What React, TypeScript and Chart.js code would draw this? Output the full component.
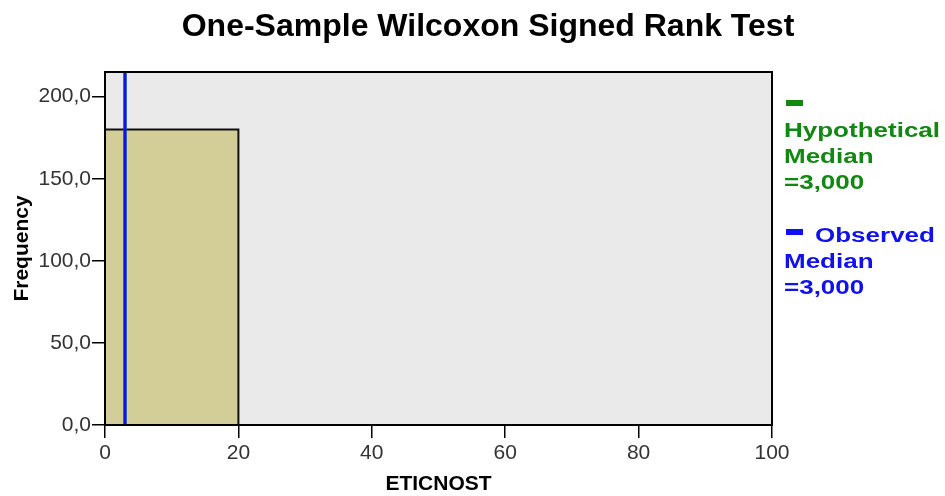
import React, { useEffect, useRef } from "react";
import { Chart, registerables } from "chart.js";

Chart.register(...registerables);

const chartTitle = "One-Sample Wilcoxon Signed Rank Test";
const xAxisTitle = "ETICNOST";
const yAxisTitle = "Frequency";

const binEdges = [0, 20];
const binCounts = [180];

const hypotheticalMedian = 3;
const observedMedian = 3;

const xMin = 0;
const xMax = 100;
const xStep = 20;
const yMin = 0;
const yMax = 215;
const yStep = 50;

const legendGreen = ["Hypothetical", "Median", "=3,000"];
const legendBlue = ["Observed", "Median", "=3,000"];

const GREEN = "#118811";
const BLUE = "#1010F0";
const BAR_FILL = "#D3CD98";
const PLOT_BG = "#EAEAEA";

function histogramOutline() {
  const pts: { x: number; y: number }[] = [];
  for (let i = 0; i < binCounts.length; i++) {
    pts.push({ x: binEdges[i], y: 0 });
    pts.push({ x: binEdges[i], y: binCounts[i] });
    pts.push({ x: binEdges[i + 1], y: binCounts[i] });
    pts.push({ x: binEdges[i + 1], y: 0 });
  }
  return pts;
}

const decorPlugin = {
  id: "decor",
  beforeDatasetsDraw(chart: any) {
    const { ctx, chartArea } = chart;
    ctx.save();
    ctx.fillStyle = PLOT_BG;
    ctx.fillRect(chartArea.left, chartArea.top, chartArea.right - chartArea.left, chartArea.bottom - chartArea.top);
    ctx.restore();
  },
  afterDraw(chart: any) {
    const { ctx, chartArea } = chart;
    ctx.save();
    // frame
    ctx.strokeStyle = "#000";
    ctx.lineWidth = 2;
    ctx.strokeRect(chartArea.left, chartArea.top, chartArea.right - chartArea.left, chartArea.bottom - chartArea.top);

    // title
    ctx.fillStyle = "#000";
    ctx.font = "bold 32px 'Liberation Sans', Arial, sans-serif";
    ctx.textAlign = "center";
    ctx.textBaseline = "alphabetic";
    ctx.fillText(chartTitle, 488, 36);

    // x axis title
    ctx.font = "bold 21px 'Liberation Sans', Arial, sans-serif";
    ctx.fillText(xAxisTitle, (chartArea.left + chartArea.right) / 2, 490);

    // y axis title
    ctx.save();
    ctx.translate(28, (chartArea.top + chartArea.bottom) / 2);
    ctx.rotate(-Math.PI / 2);
    ctx.fillText(yAxisTitle, 0, 0);
    ctx.restore();

    // legend
    const sx = 1.3;
    ctx.font = "bold 20px 'Liberation Sans', Arial, sans-serif";
    ctx.textAlign = "left";
    // green
    ctx.fillStyle = GREEN;
    ctx.fillRect(786, 100, 17, 6);
    const gBase = [137, 163, 189];
    legendGreen.forEach((t, i) => {
      ctx.save();
      ctx.translate(784, gBase[i]);
      ctx.scale(sx, 1);
      ctx.fillText(t, 0, 0);
      ctx.restore();
    });
    // blue
    ctx.fillStyle = BLUE;
    ctx.fillRect(786, 229, 17, 6);
    const bBase = [242, 268, 294];
    legendBlue.forEach((t, i) => {
      ctx.save();
      ctx.translate(i === 0 ? 815 : 784, bBase[i]);
      ctx.scale(sx, 1);
      ctx.fillText(t, 0, 0);
      ctx.restore();
    });
    ctx.restore();
  },
};

export default function App() {
  const canvasRef = useRef<HTMLCanvasElement | null>(null);

  useEffect(() => {
    document.body.style.margin = "0";
    const canvas = canvasRef.current;
    if (!canvas) return;
    const chart = new Chart(canvas, {
      type: "line",
      data: {
        datasets: [
          {
            label: "Observed Median",
            data: [
              { x: observedMedian, y: yMin },
              { x: observedMedian, y: yMax },
            ],
            borderColor: BLUE,
            borderWidth: 3,
            pointRadius: 0,
            fill: false,
            order: 0,
          },
          {
            label: "Hypothetical Median",
            data: [
              { x: hypotheticalMedian, y: yMin },
              { x: hypotheticalMedian, y: yMax },
            ],
            borderColor: GREEN,
            borderWidth: 3,
            pointRadius: 0,
            fill: false,
            order: 1,
          },
          {
            label: "Histogram",
            data: histogramOutline(),
            borderColor: "#111",
            borderWidth: 2,
            backgroundColor: BAR_FILL,
            pointRadius: 0,
            fill: "origin",
            tension: 0,
            order: 2,
          },
        ],
      },
      options: {
        animation: false,
        responsive: false,
        maintainAspectRatio: false,
        layout: { padding: { top: 72, right: 173, left: 0, bottom: 0 } },
        plugins: {
          legend: { display: false },
          tooltip: { enabled: false },
          title: { display: false },
        },
        scales: {
          x: {
            type: "linear",
            min: xMin,
            max: xMax,
            afterFit: (s: any) => {
              s.height = 71;
            },
            ticks: {
              stepSize: xStep,
              color: "#333",
              font: { family: "'Liberation Sans', Arial, sans-serif", size: 21 },
              padding: 3,
              maxRotation: 0,
            },
            grid: {
              drawOnChartArea: false,
              drawTicks: true,
              tickLength: 13,
              color: "#000",
              lineWidth: 1.5,
            },
            border: { display: true, color: "#000", width: 2 },
          },
          y: {
            type: "linear",
            min: yMin,
            max: yMax,
            afterFit: (s: any) => {
              s.width = 105;
            },
            afterBuildTicks: (s: any) => {
              s.ticks = s.ticks.filter((t: any) => t.value % yStep === 0);
            },
            ticks: {
              stepSize: yStep,
              color: "#333",
              font: { family: "'Liberation Sans', Arial, sans-serif", size: 21 },
              padding: 1,
              callback: (v: any) => Number(v).toFixed(1).replace(".", ","),
            },
            grid: {
              drawOnChartArea: false,
              drawTicks: true,
              tickLength: 13,
              color: "#000",
              lineWidth: 1.5,
            },
            border: { display: true, color: "#000", width: 2 },
          },
        },
      },
      plugins: [decorPlugin],
    } as any);
    return () => chart.destroy();
  }, []);

  return (
    <div style={{ width: 945, height: 496, position: "relative", background: "#fff" }}>
      <canvas ref={canvasRef} width={945} height={496} style={{ display: "block" }} />
    </div>
  );
}
